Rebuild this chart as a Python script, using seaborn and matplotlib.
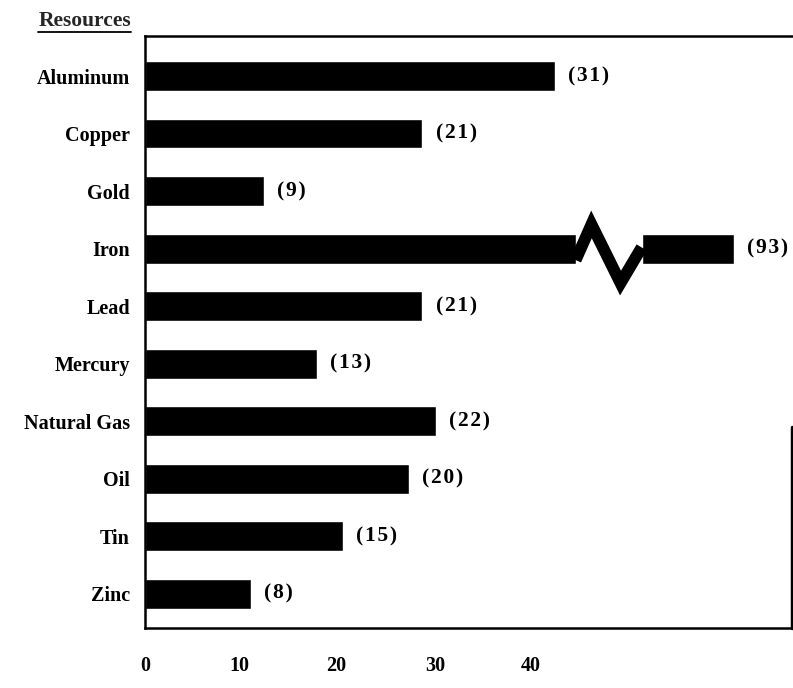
import matplotlib
matplotlib.use("Agg")
import matplotlib.pyplot as plt
import seaborn as sns
from matplotlib.lines import Line2D

sns.set_theme(style="white")
plt.rcParams['font.family'] = ['Liberation Serif', 'DejaVu Serif']

# data
resources = ["Aluminum", "Copper", "Gold", "Iron", "Lead",
             "Mercury", "Natural Gas", "Oil", "Tin", "Zinc"]
values = [31, 21, 9, 93, 21, 13, 22, 20, 15, 8]

# the printed axis labels sit at these bar-units (the original scale is off)
tick_labels = ["0", "10", "20", "30", "40"]
tick_pos = [0.0, 7.1, 14.5, 22.0, 29.2]

# Iron is drawn truncated with a break symbol
bar_cap = 44.6
break_from, break_to = 32.6, 37.6

display = [min(v, bar_cap) for v in values]

fig = plt.figure(figsize=(7.93, 6.88), dpi=100)
ax = fig.add_axes([0.183, 0.087, 0.816, 0.861])

sns.barplot(x=display, y=resources, orient="h", color="black",
            saturation=1, width=0.52, ax=ax)

# break in the Iron bar
iron = resources.index("Iron")
ax.fill_between([break_from, break_to], iron - 0.3, iron + 0.3,
                color="white", zorder=3)
zx = [break_from, break_from + 1.2, break_from + 3.4, break_to]
zy = [iron + 0.2, iron - 0.42, iron + 0.6, iron - 0.02]
ax.plot(zx, zy, color="black", lw=8.5, solid_joinstyle="miter",
        solid_capstyle="butt", zorder=4)

# value labels (slightly letter-spaced like the print)
sp = "\u200a"
for i, (v, d) in enumerate(zip(values, display)):
    ax.text(d + 1.0, i, sp.join(f"({v})"), va="center", ha="left",
            fontsize=15.5, fontweight="bold", color="black")

ax.set_xticks(tick_pos, tick_labels)
ax.set_xlim(0, 49.0)
ax.set_ylim(9.6, -0.7)
ax.tick_params(axis="x", length=0, pad=20, labelsize=14.5, labelcolor="black")
ax.tick_params(axis="y", length=0, pad=11, labelsize=14.5, labelcolor="black")
for lab in ax.get_xticklabels() + ax.get_yticklabels():
    lab.set_fontweight("bold")
ax.set_xlabel("")
ax.set_ylabel("")

for side in ["top", "left", "bottom"]:
    ax.spines[side].set_visible(True)
    ax.spines[side].set_color("black")
    ax.spines[side].set_linewidth(1.8)
ax.spines["right"].set_visible(False)
ax.axvline(49.0, ymin=0, ymax=0.34, color="black", lw=2.5, clip_on=False)

# header
fig.text(0.165, 0.97, "Resources", ha="right", va="center",
         fontsize=15.5, fontweight="bold")
fig.add_artist(Line2D([0.048, 0.165], [0.953, 0.953], color="black", lw=1.3))

fig.savefig("out.png", dpi=100, facecolor="white")
